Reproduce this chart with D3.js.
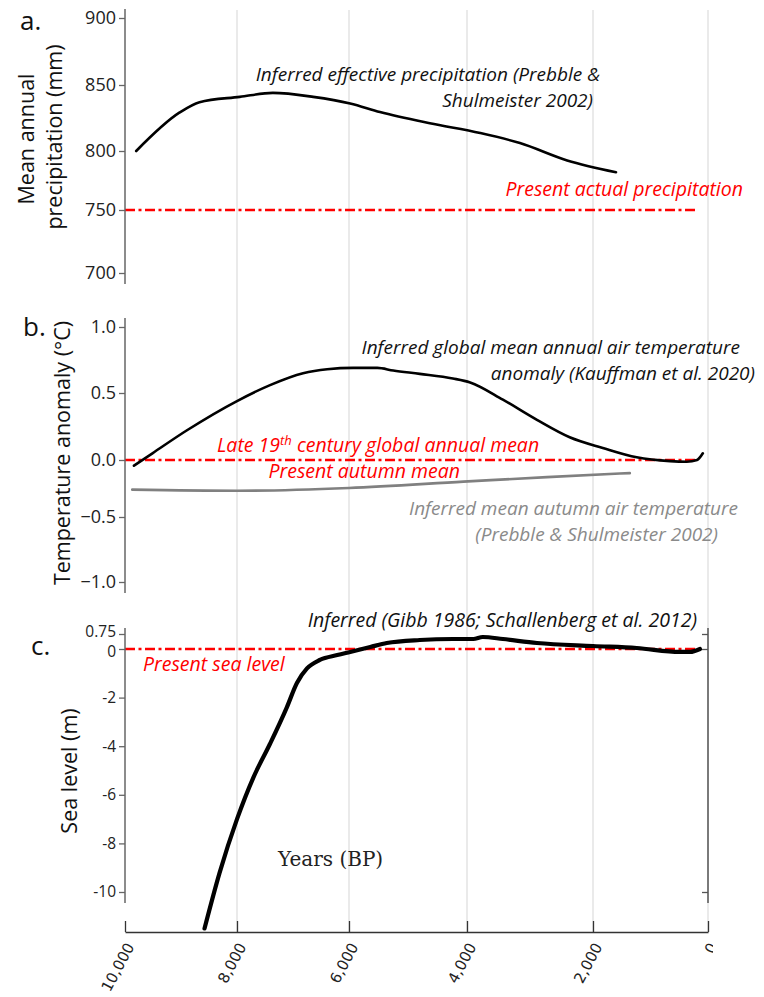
<!DOCTYPE html>
<html>
<head>
<meta charset="utf-8">
<script src="https://cdn.jsdelivr.net/npm/d3@7"></script>
<style>
  body { margin: 0; background: #fff; }
  svg text { font-family: "Open Sans", Lato, sans-serif; }
</style>
</head>
<body>
<div id="chart"></div>
<script>
const width = 764;
const height = 997;

// x axis, years before present
const yearTicks = [10000, 8000, 6000, 4000, 2000, 0];
const yearLabels = ["10,000", "8,000", "6,000", "4,000", "2,000", "0"];

// a. precipitation
const precipTicks = [900, 850, 800, 750, 700];
const precipYears = [9800, 9030, 8670, 7950, 7360, 6640, 5980, 5475, 4630, 3790, 3160, 2410, 1600];
const precipValues = [800, 829, 837, 841, 844, 841, 836, 829.5, 821, 813.6, 806, 792, 782];
const presentPrecip = 750;

// b. temperature anomaly
const tempTicks = [1.0, 0.5, 0.0, -0.5, -1.0];
const kauffYears = [9840, 9510, 8900, 8000, 7410, 6820, 6390, 5930, 5520, 5250, 4800, 4240, 3950, 3430, 2890, 2370, 1830, 1240, 660, 370, 190, 90];
const kauffValues = [-0.05, 0.05, 0.22, 0.44, 0.56, 0.65, 0.68, 0.69, 0.69, 0.67, 0.645, 0.61, 0.58, 0.45, 0.30, 0.17, 0.09, 0.02, -0.01, -0.015, 0.0, 0.05];
const autumnYears = [9870, 8000, 6000, 4060, 2730, 1360];
const autumnValues = [-0.26, -0.27, -0.245, -0.19, -0.15, -0.115];
const lateC19Mean = 0;

// c. sea level
const seaTicks = [0.75, 0, -2, -4, -6, -8, -10];
const seaTickLabels = ["0.75", "0", "-2", "-4", "-6", "-8", "-10"];
const seaYears = [8580, 8310, 8000, 7710, 7410, 7110, 6930, 6750, 6520, 6210, 5980, 5640, 5360, 4800, 4240, 3900, 3750, 3430, 2890, 2000, 1240, 490, 310, 140];
const seaValues = [-11.5, -9.2, -7.0, -5.3, -3.9, -2.4, -1.4, -0.8, -0.45, -0.25, -0.12, 0.1, 0.3, 0.45, 0.5, 0.5, 0.6, 0.5, 0.3, 0.15, 0.05, -0.12, -0.12, 0];
const presentSea = 0;
const refEndYear = 170; // red reference lines stop just short of 0 BP

const svg = d3.select("#chart").append("svg")
    .attr("width", width)
    .attr("height", height);

// the original figure is hand assembled, so the axes are slightly uneven
const x = d3.scaleLinear().domain(yearTicks).range([125, 237, 349, 467, 593, 708]);
const yA = d3.scaleLinear().domain(precipTicks).range([18, 85, 151, 210, 273]);
const yB = d3.scaleLinear().domain(tempTicks).range([327, 393, 460, 517, 582]);
const yC = d3.scaleLinear().domain([0.75, 0, -10]).range([634, 649, 892]);

const axisX = 125;
const bottomY = 932;
const dashDot = "10,3.5,3,3.5";

// vertical gridlines
svg.append("g")
    .selectAll("line")
    .data(yearTicks.filter(d => d !== 10000))
    .join("line")
    .attr("x1", d => x(d)).attr("x2", d => x(d))
    .attr("y1", 10).attr("y2", bottomY)
    .attr("stroke", "#e3e3e3")
    .attr("stroke-width", 1.5);

// red reference lines
const refs = [[yA, presentPrecip], [yB, lateC19Mean], [yC, presentSea]];
svg.append("g")
    .selectAll("line")
    .data(refs)
    .join("line")
    .attr("x1", x(10000)).attr("x2", x(refEndYear))
    .attr("y1", d => d[0](d[1])).attr("y2", d => d[0](d[1]))
    .attr("stroke", "#ff0000")
    .attr("stroke-width", 2.5)
    .attr("stroke-dasharray", dashDot);

// curves
const drawCurve = (years, values, yScale, color, w) => {
    const line = d3.line()
        .x(d => x(d[0]))
        .y(d => yScale(d[1]))
        .curve(d3.curveMonotoneX);
    svg.append("path")
        .datum(d3.zip(years, values))
        .attr("d", line)
        .attr("fill", "none")
        .attr("stroke", color)
        .attr("stroke-width", w)
        .attr("stroke-linecap", "round");
};
drawCurve(precipYears, precipValues, yA, "#000", 2.6);
drawCurve(autumnYears, autumnValues, yB, "#808080", 2.6);
drawCurve(kauffYears, kauffValues, yB, "#000", 2.6);
drawCurve(seaYears, seaValues, yC, "#000", 4.2);

// left axes
const leftAxis = (scale, ticks, labels, top, bottom, size) => {
    const g = svg.append("g")
        .attr("transform", `translate(${axisX},0)`)
        .call(d3.axisLeft(scale).tickValues(ticks).tickSize(6).tickPadding(3)
            .tickFormat((d, i) => labels ? labels[i] : d3.format(".1f")(d)))
        .call(g => g.select(".domain").remove());
    g.selectAll(".tick line").attr("stroke", "#666").attr("stroke-width", 1.3);
    g.selectAll(".tick text").attr("fill", "#222").style("font-size", size + "px")
        .style("font-family", "'Open Sans', sans-serif");
    g.append("line")
        .attr("y1", top).attr("y2", bottom)
        .attr("stroke", "#666").attr("stroke-width", 1.5);
    return g;
};
leftAxis(yA, precipTicks, precipTicks.map(String), 9, 284, 18);
leftAxis(yB, tempTicks, null, 318, 593, 18);
const axC = leftAxis(yC, seaTicks, seaTickLabels, 628, 903, 15.5);
// nudge the crowded top pair apart a little, as in the original
axC.selectAll(".tick text").attr("dy", (d) => d === 0.75 ? "0.15em" : d === 0 ? "0.48em" : "0.32em");

// right axis of panel c
const right = svg.append("g")
    .attr("transform", `translate(${x(0)},0)`)
    .call(d3.axisRight(yC).tickValues([0.75, 0, -10]).tickSize(-6).tickFormat(""))
    .call(g => g.select(".domain").remove());
right.selectAll(".tick line").attr("stroke", "#555").attr("stroke-width", 1.3);
right.append("line").attr("y1", 628).attr("y2", 903).attr("stroke", "#555").attr("stroke-width", 1.5);

// bottom axis
svg.append("clipPath").attr("id", "clipx")
    .append("rect").attr("x", 0).attr("y", 0).attr("width", 713).attr("height", height);
const bottom = svg.append("g")
    .attr("transform", `translate(0,${bottomY})`)
    .call(d3.axisTop(x).tickValues(yearTicks).tickSize(11).tickSizeOuter(0).tickFormat(""));
bottom.select(".domain").attr("stroke", "#333").attr("stroke-width", 1.5);
bottom.selectAll(".tick line").attr("stroke", "#333").attr("stroke-width", 1.3);
svg.append("g")
    .attr("clip-path", "url(#clipx)")
    .selectAll("text")
    .data(yearTicks)
    .join("text")
    .attr("transform", d => `translate(${x(d) + 5},${bottomY + 12}) rotate(-62)`)
    .attr("text-anchor", "end")
    .attr("dy", "0.35em")
    .attr("fill", "#222")
    .style("font-family", "'DejaVu Sans', sans-serif")
    .style("font-size", "15px")
    .text((d, i) => yearLabels[i]);

// axis titles
const vTitle = (txt, tx, ty) => svg.append("text")
    .attr("transform", `translate(${tx},${ty}) rotate(-90)`)
    .attr("text-anchor", "middle")
    .attr("fill", "#111")
    .style("font-size", "21.5px")
    .text(txt);
vTitle("Mean annual", 34, 139);
vTitle("precipitation (mm)", 62, 137);
vTitle("Temperature anomaly (°C)", 70, 453);
vTitle("Sea level (m)", 77, 771);

// panel letters
[["a.", 20, 30], ["b.", 23, 336], ["c.", 31, 655]].forEach(([t, tx, ty]) => {
    svg.append("text").attr("x", tx).attr("y", ty)
        .attr("fill", "#111").style("font-size", "26px").text(t);
});

// annotations; lines = [[text, x, y], ...] kept in one text element
const note = (lines, color, anchor = "end", size = 19.5) => {
    const t = svg.append("text")
        .attr("text-anchor", anchor)
        .attr("fill", color)
        .style("font-size", size + "px")
        .style("font-style", "italic");
    lines.forEach(([s, tx, ty]) => t.append("tspan").attr("x", tx).attr("y", ty).text(s));
    return t;
};
note([["Inferred effective precipitation (Prebble &", 600, 81], ["Shulmeister 2002)", 593, 107]], "#111", "end", 19);
note([["Present actual precipitation", 743, 196]], "#ff0000");

note([["Inferred global mean annual air temperature", 740, 354], ["anomaly (Kauffman et al. 2020)", 755, 380]], "#111", "end", 19);
const late = svg.append("text")
    .attr("x", 217).attr("y", 452)
    .attr("fill", "#ff0000")
    .style("font-size", "19.5px")
    .style("font-style", "italic")
    .text("Late 19");
late.append("tspan").attr("dy", -7).style("font-size", "13px").text("th");
late.append("tspan").attr("dy", 7).text(" century global annual mean");
note([["Present autumn mean", 460, 478]], "#ff0000");
note([["Inferred mean autumn air temperature", 738, 515], ["(Prebble & Shulmeister 2002)", 718, 541]], "#8a8a8a", "end", 19);

note([["Inferred (Gibb 1986; Schallenberg et al. 2012)", 697, 627]], "#111");
note([["Present sea level", 143, 671]], "#ff0000", "start");

svg.append("text")
    .attr("x", 278).attr("y", 866)
    .attr("fill", "#222")
    .style("font-family", "'DejaVu Serif', serif")
    .style("font-size", "20px")
    .text("Years (BP)");
</script>
</body>
</html>
